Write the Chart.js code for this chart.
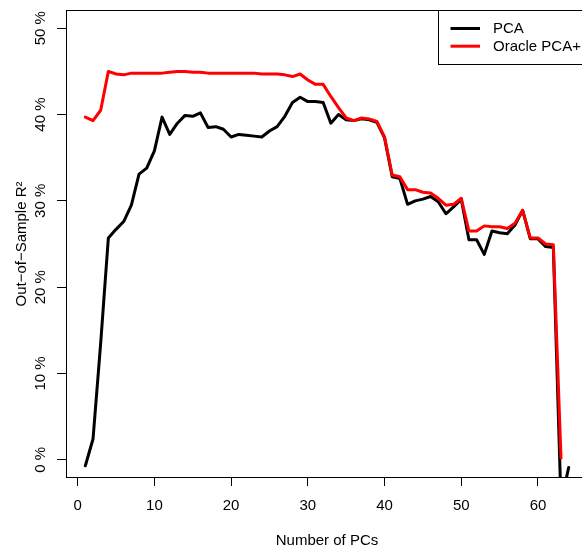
<!DOCTYPE html>
<html><head><meta charset="utf-8">
<script src="https://cdn.jsdelivr.net/npm/chart.js@4/dist/chart.umd.min.js"></script>
<style>html,body{margin:0;padding:0;overflow:hidden;background:#fff}#wrap{width:600px;height:548px}</style>
</head><body><div id="wrap"><canvas id="c" width="600" height="548"></canvas></div>
<script>
const pcs = [1,2,3,4,5,6,7,8,9,10,11,12,13,14,15,16,17,18,19,20,21,22,23,24,25,26,27,28,29,30,31,32,33,34,35,36,37,38,39,40,41,42,43,44,45,46,47,48,49,50,51,52,53,54,55,56,57,58,59,60,61,62,63,64];
const pcaR2 = [-0.7,2.4,13.5,25.7,26.7,27.6,29.5,33.1,33.8,35.8,39.7,37.7,39.0,39.9,39.8,40.2,38.5,38.6,38.3,37.4,37.7,37.6,37.5,37.4,38.1,38.6,39.8,41.4,42.0,41.5,41.5,41.4,39.0,40.0,39.4,39.3,39.5,39.4,39.1,37.3,32.8,32.6,29.6,30.0,30.2,30.5,29.9,28.5,29.3,30.2,25.5,25.5,23.8,26.5,26.3,26.2,27.2,28.9,25.6,25.6,24.7,24.6,-5.0,-0.9];
const oracleR2 = [39.7,39.3,40.5,45.0,44.7,44.6,44.8,44.8,44.8,44.8,44.8,44.9,45.0,45.0,44.9,44.9,44.8,44.8,44.8,44.8,44.8,44.8,44.8,44.7,44.7,44.7,44.6,44.4,44.7,44.0,43.5,43.5,42.1,40.8,39.6,39.3,39.6,39.5,39.2,37.4,33.0,32.8,31.3,31.3,31.0,30.9,30.3,29.5,29.6,30.3,26.5,26.5,27.1,27.0,27.0,26.8,27.4,28.9,25.7,25.7,25.0,24.9,0.2];
const xTicks = [0,10,20,30,40,50,60];
const yTicks = [0,10,20,30,40,50];
const seriesNames = ['PCA','Oracle PCA+'];
const seriesColors = ['#000000','#ff0000'];
const xTitle = 'Number of PCs';
const yTitle = 'Out\u2212of\u2212Sample R\u00B2';

Chart.defaults.font.family = "'Liberation Sans', Arial, Helvetica, sans-serif";
Chart.defaults.font.size = 15;
Chart.defaults.color = '#000';

const toPts = (vals) => vals.map((v, i) => ({x: pcs[i], y: v}));

const framePlugin = {
  id: 'framePlugin',
  afterDraw(chart) {
    const {ctx, chartArea: a} = chart;
    ctx.save();
    ctx.strokeStyle = '#000';
    ctx.lineWidth = 1;
    ctx.strokeRect(a.left + 0.5, a.top - 0.5, a.right - a.left, a.bottom - a.top + 1);
    // legend box (R style, top-right inside plot)
    const bx = Math.round(a.right - 150) + 0.5;
    const by = a.top - 0.5;
    ctx.strokeRect(bx, by, a.right - bx + 1, 54);
    ctx.font = "15px 'Liberation Sans', Arial, sans-serif";
    ctx.textBaseline = 'middle';
    ctx.textAlign = 'left';
    chart.data.datasets.forEach((ds, i) => {
      const y = a.top + 17.5 + i * 17.7;
      ctx.beginPath();
      ctx.strokeStyle = ds.borderColor;
      ctx.lineWidth = 3;
      ctx.moveTo(a.right - 137.5, y);
      ctx.lineTo(a.right - 108, y);
      ctx.stroke();
      ctx.fillStyle = '#000';
      ctx.fillText(ds.label, a.right - 95, y + 0.5);
    });
    ctx.restore();
  }
};

new Chart(document.getElementById('c'), {
  type: 'line',
  data: {
    datasets: [
      {label: seriesNames[0], data: toPts(pcaR2), borderColor: seriesColors[0], backgroundColor: seriesColors[0], borderWidth: 3, pointRadius: 0, tension: 0, clip: 0, order: 2, borderJoinStyle: 'round', borderCapStyle: 'round'},
      {label: seriesNames[1], data: toPts(oracleR2), borderColor: seriesColors[1], backgroundColor: seriesColors[1], borderWidth: 3, pointRadius: 0, tension: 0, clip: 0, order: 1, borderJoinStyle: 'round', borderCapStyle: 'round'}
    ]
  },
  options: {
    responsive: false,
    animation: false,
    layout: {padding: {left: 0, right: 12, top: 11, bottom: 0}},
    plugins: {legend: {display: false}, tooltip: {enabled: false}},
    scales: {
      x: {
        type: 'linear', min: -1.52, max: 66.52,
        afterBuildTicks: s => { s.ticks = xTicks.map(v => ({value: v})); },
        afterFit: s => { s.height = 71; },
        grid: {drawOnChartArea: false, drawTicks: true, tickLength: 9, color: '#000', tickColor: '#000', lineWidth: 1},
        border: {display: false},
        ticks: {padding: 11, maxRotation: 0, minRotation: 0, autoSkip: false, color: '#000', font: {size: 15}},
        title: {display: true, text: xTitle, color: '#000', font: {size: 15}, padding: {top: 0, bottom: -2}}
      },
      y: {
        type: 'linear', min: -2, max: 52,
        afterBuildTicks: s => { s.ticks = yTicks.map(v => ({value: v})); },
        afterFit: s => { s.width = 66; },
        grid: {drawOnChartArea: false, drawTicks: true, tickLength: 9, color: '#000', tickColor: '#000', lineWidth: 1},
        border: {display: false},
        ticks: {padding: -1, minRotation: 90, maxRotation: 90, crossAlign: 'center', autoSkip: false, color: '#000', font: {size: 15}, callback: v => v + ' %'},
        title: {display: true, text: yTitle, color: '#000', font: {size: 15}, padding: {top: 13, bottom: 0}}
      }
    }
  },
  plugins: [framePlugin]
});
</script>
</body></html>
